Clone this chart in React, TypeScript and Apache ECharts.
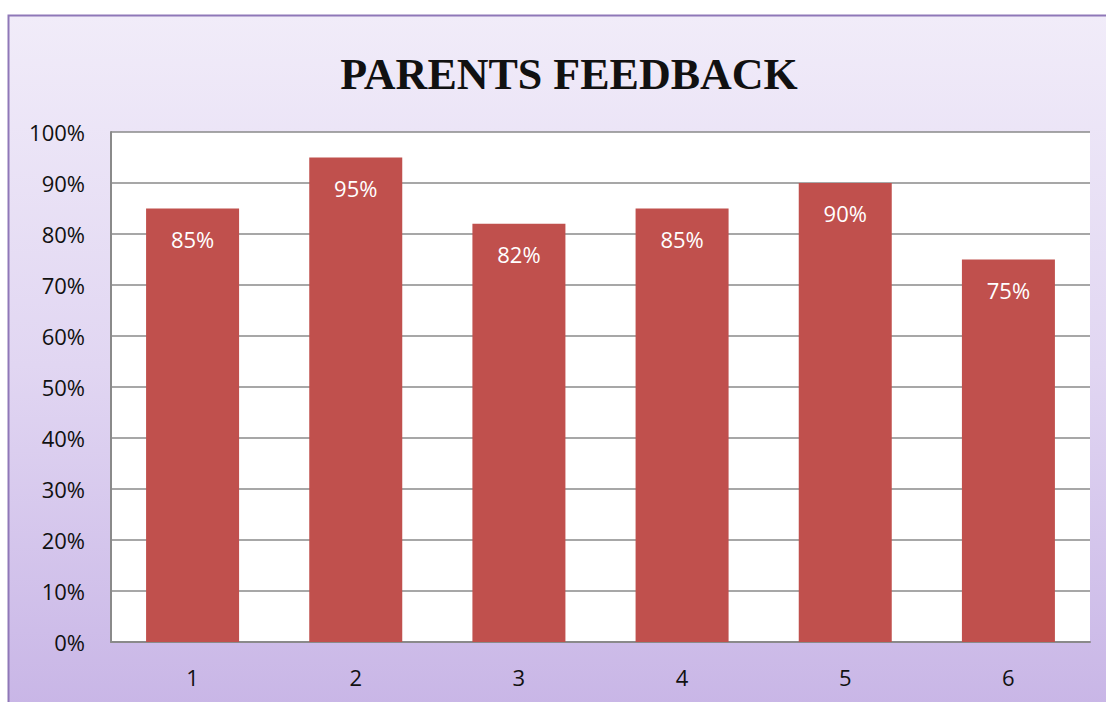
import React, { useEffect, useRef } from "react";
import * as echarts from "echarts";

const categories = ["1", "2", "3", "4", "5", "6"];
const feedback = [85, 95, 82, 85, 90, 75];
const titleText = "PARENTS FEEDBACK";

export default function App() {
  const ref = useRef<HTMLDivElement>(null);
  useEffect(() => {
    const chart = echarts.init(ref.current!, null, { renderer: "svg" });
    const font = "'Open Sans', sans-serif";
    chart.setOption({
      animation: false,
      graphic: [
        {
          type: "rect",
          z: -10,
          silent: true,
          shape: { x: 8.5, y: 15.5, width: 1110, height: 700 },
          style: {
            fill: new echarts.graphic.LinearGradient(0, 0, 0, 1, [
              { offset: 0, color: "#f1ecf9" },
              { offset: 0.5, color: "#e1d6f2" },
              { offset: 1, color: "#c8b5e6" },
            ]),
            stroke: "#8f78b8",
            lineWidth: 2,
          },
        },
      ],
      title: {
        text: titleText,
        left: 564,
        textAlign: "center",
        top: 47,
        textStyle: {
          fontFamily: "'Liberation Serif', serif",
          fontWeight: "bold",
          fontSize: 44,
          color: "#111",
          textShadowColor: "#9a9a9a",
          textShadowOffsetX: 2,
          textShadowOffsetY: 2,
          textShadowBlur: 0,
        },
      },
      grid: {
        left: 111,
        top: 132,
        right: 16,
        bottom: 60,
        show: true,
        backgroundColor: "#ffffff",
        borderWidth: 0,
      },
      xAxis: {
        type: "category",
        data: categories,
        axisLine: { show: true, lineStyle: { color: "#8a8a8a", width: 2 } },
        axisTick: { show: false },
        axisLabel: { color: "#111", fontSize: 22, fontFamily: font, margin: 24 },
      },
      yAxis: {
        type: "value",
        min: 0,
        max: 100,
        interval: 10,
        axisLine: { show: true, lineStyle: { color: "#8a8a8a", width: 2 } },
        axisTick: { show: false },
        splitLine: { show: true, lineStyle: { color: "#8a8a8a", width: 1.5 } },
        axisLabel: {
          color: "#111",
          fontSize: 22,
          fontFamily: font,
          margin: 26,
          formatter: "{value}%",
        },
      },
      series: [
        {
          type: "bar",
          data: feedback,
          barWidth: "57%",
          itemStyle: { color: "#c0504d" },
          label: {
            show: true,
            position: "insideTop",
            distance: 19,
            color: "#ffffff",
            fontSize: 22,
            fontFamily: font,
            formatter: "{c}%",
          },
        },
      ],
    });
    return () => chart.dispose();
  }, []);
  return (
    <div
      ref={ref}
      style={{ position: "absolute", left: 0, top: 0, width: 1106, height: 702 }}
    />
  );
}
